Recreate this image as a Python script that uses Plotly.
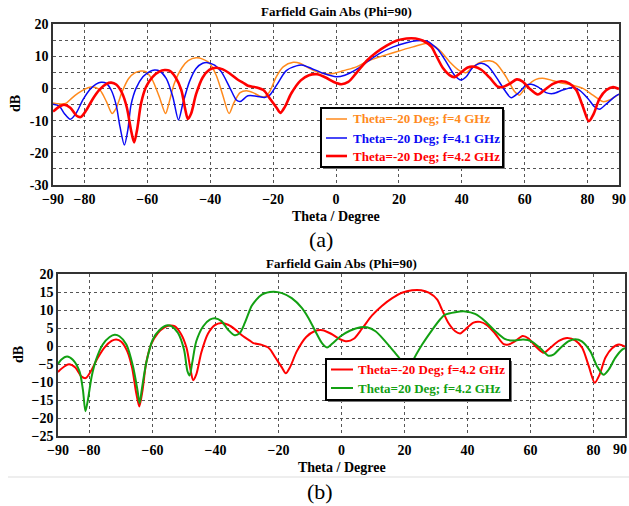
import plotly.graph_objects as go

# ---------------- data ----------------
# (a) Theta=-20 Deg; f=4 GHz
th_4 = [-90, -88, -86, -84, -82, -80, -78, -76.5, -75, -73, -71.2, -70, -68, -66, -64, -62, -60.5, -58.5,
        -56.2, -54.2, -53, -51.4, -49, -47, -44.5, -42.4, -40.2, -38.1, -36, -34, -32.5, -30.5, -28.5,
        -26.4, -24.2, -22.7, -21.1, -19, -16.8, -13.6, -11.5, -9.4, -6.2, -3, -0.4, 2.3, 6.5, 9.7, 13.9,
        19.2, 24.5, 28.8, 30, 32.9, 36.1, 39.3, 41.4, 43, 45.6, 48.8, 50.9, 54.1, 56.8, 58.3, 60.5, 63.6,
        66.3, 69, 72.1, 75.3, 78.5, 81.7, 84.9, 87, 90]
g_4 = [-4.5, -4.8, -4.7, -3.0, -1.5, -0.3, 0.4, 0.3, -0.6, -4.1, -7.8, -6.3, -1.0, 3.0, 4.8, 5.4, 5.2, 2.8,
       -2.6, -7.8, -4.1, 1.6, 6.4, 8.6, 9.5, 9.1, 7.8, 4.1, -2.1, -7.8, -4.5, -1.3, -0.7,
       -1.3, -2.4, -2.6, -1.0, 3.6, 6.7, 8.1, 7.8, 6.7, 5.2, 4.5, 4.7, 5.5, 6.7, 8.3, 9.8,
       11.4, 12.9, 14.0, 13.8, 11.9, 8.3, 5.5, 4.9, 6.2, 8.0, 8.6, 7.8, 3.6, -1.0, -2.1, 0.5, 2.8,
       3.1, 2.4, 1.6, 1.0, 0.0, -2.1, -4.1, -3.6, -1.8]

# (a) Theta=-20 Deg; f=4.1 GHz
th_41 = [-90, -88, -86.4, -84.5, -82.7, -80.5, -78.4, -76.3, -74.7, -73.1, -71.5, -69.9, -68.7, -67.3,
         -66.2, -65.2, -63.6, -61.4, -59.3, -57.7, -56.1, -54, -51.9, -50.1, -48.7, -46.6, -44.5, -42.4,
         -40.8, -38.6, -36.5, -33.9, -31.7, -30.5, -28, -25.3, -22.7, -21.1, -18.9, -15.8, -12.6, -10.5,
         -7.8, -4.1, 0.1, 2.8, 6.5, 9.7, 13.9, 18.2, 22.4, 25.6, 28.8, 31, 32.5, 35, 37.7, 39.8, 41.4,
         43.5, 46.2, 48.3, 50.9, 53.6, 55.7, 57.8, 60.5, 62.1, 64.2, 66.8, 69, 72.1, 75.3, 77.4, 80.1,
         82.2, 83.8, 85.9, 88.6, 90]
g_41 = [-4.9, -5.5, -7.8, -9.6, -7.8, -3.6, -0.5, 1.3, 1.9, 1.6, -0.5, -5.2, -11.9, -17.6,
        -12.9, -5.2, 0.0, 3.6, 5.2, 5.7, 5.4, 3.1, -2.6, -9.8, -4.7, 2.1, 6.2, 7.8,
        8.0, 7.2, 5.2, 0.5, -3.6, -4.1, -2.3, -2.4, -2.8, -2.1, 1.0, 5.5, 7.0, 7.2,
        6.2, 4.7, 3.6, 4.1, 5.9, 8.1, 10.9, 12.9, 14.2, 14.8, 14.7, 13.3, 12.0, 8.3, 4.1, 2.6, 3.6,
        6.5, 7.8, 6.9, 3.6, -0.5, -2.9, -1.6, 1.0, 1.3, 0.5, -1.3, -1.6, -0.5, 0.3, -0.5, -3.1,
        -5.7, -6.5, -4.9, -2.6, -1.8]

# (a) and (b) Theta=-20 Deg; f=4.2 GHz
th_42 = [-90, -88, -86.5, -84.5, -82.5, -81.2, -79.5, -77.5, -75.2, -73, -71.5, -69.9, -68, -66.5, -65.2,
         -64.2, -63.2, -62, -60.4, -58.3, -56.2, -54.5, -53, -51, -49.2, -47.9, -47.1, -46.1, -44.5,
         -42.4, -40.2, -38.1, -36, -33.9, -31.2, -29.1, -28, -25.3, -23, -21, -18.9, -17.7, -16.3, -14.2,
         -11.2, -8.6, -6, -3.3, -0.7, 1.7, 3.9, 6.5, 9.7, 12.9, 16.1, 19.2, 22.4, 25.3, 27.7, 30.4,
         31.8, 34, 36.1, 37.7, 39.3, 41.9, 44, 46.2, 48.8, 51.5, 53, 55.2, 57.5, 59.4, 61.5, 64.2, 66.3,
         69, 71.6, 74.3, 76.4, 78.5, 80.4, 81.9, 83.8, 85.9, 88.1, 90]
g_42 = [-7.2, -5.7, -5.1, -6.0, -8.5, -8.9, -6.9, -3.5, -0.4, 1.4, 1.8, 1.2, -1.5, -6.0, -12.9,
        -16.8, -12.5, -4.7, 0.5, 3.6, 5.2, 5.7, 5.5, 3.4, -0.5, -6.7, -9.5, -7.9, -1.8,
        3.4, 5.8, 6.4, 5.9, 4.7, 2.7, 1.5, 0.8, 0.3, -0.6, -3.2, -6.0, -7.6, -5.8, -1.5,
        2.5, 4.1, 4.4, 3.4, 2.0, 1.3, 2.0, 4.8, 8.5, 11.2, 13.3, 14.8, 15.5, 15.5, 14.8, 12.9,
        10.3, 6.3, 4.1, 3.5, 4.6, 6.5, 6.7, 5.8, 3.4, 0.5, 0.4, 1.4, 2.8, 2.1, 0.0, -1.9, -0.5,
        1.4, 2.2, 1.5, -0.5, -5.6, -10.2, -8.0, -3.2, -0.6, 0.4, -0.2]

# (b) Theta=20 Deg; f=4.2 GHz
th_p20 = [-90, -89, -87.1, -85.3, -83.2, -82.1, -81.3, -80.5, -79.3, -77.9, -75.8, -73.6, -72, -70.5,
          -68.3, -66.2, -64.8, -64.1, -63.4, -62, -59.9, -57.7, -55.6, -54, -51.9, -50, -48.9, -48.2,
          -47.4, -46.1, -43.9, -41.8, -40.2, -38.1, -36, -33.9, -32.3, -30.7, -29.1, -28.5, -25.3,
          -21.6, -18.9, -15.8, -12.6, -10.5, -8.3, -6.2, -4.6, -3.0, -0.3, 2.8, 6.0, 8.1, 10.8, 13.9,
          16.6, 18.7, 20, 21, 22, 22.9, 25.6, 28.8, 31.4, 32.9, 36.1, 39.3, 42.4, 45.6, 48.8, 52, 54.6,
          57.7, 60.3, 63.1, 65.7, 67.3, 69.4, 72, 74.2, 76.3, 79, 81.1, 83.2, 84.8, 86.9, 89.1, 90]
g_p20 = [-5.0, -3.8, -2.9, -3.8, -7.0, -12.1, -18.1, -14.9, -8.4, -3.8, 0.4, 2.5, 3.1, 2.7,
         0.4, -5.6, -12.1, -15.8, -12.1, -4.7, 1.8, 4.5, 5.7, 5.5, 3.6, -1.0, -7.0, -8.2,
         -4.7, 1.3, 5.5, 7.3, 7.7, 6.9, 4.5, 3.0, 3.6, 6.4, 10.0, 11.2, 14.3,
         15.1, 14.7, 13.3, 10.6, 7.8, 4.1, 0.8, -0.4, 0.6, 2.7, 4.3, 5.2, 5.2, 4.1, 1.3,
         -1.5, -3.8, -7.0, -12.0, -7.0, -3.8, 0.4, 4.5, 7.5, 8.7, 9.4, 9.6, 8.9, 6.9, 4.1, 1.9, 1.5,
         1.8, 1.3, -0.6, -2.7, -2.4, -0.6, 1.3, 1.9, 1.3, -1.5, -5.6, -8.0, -6.6, -3.3, -1.0, -0.6]

x_ticks = [-90, -80, -60, -40, -20, 0, 20, 40, 60, 80, 90]
y_ticks_a = [-30, -25, -20, -15, -10, -5, 0, 5, 10, 15, 20]
y_text_a = ["-30", "", "-20", "", "-10", "", "0", "", "10", "", "20"]
y_ticks_b = [-25, -20, -15, -10, -5, 0, 5, 10, 15, 20]

names_a = ["Theta=-20 Deg; f=4 GHz", "Theta=-20 Deg; f=4.1 GHz", "Theta=-20 Deg; f=4.2 GHz"]
names_b = ["Theta=-20 Deg; f=4.2 GHz", "Theta=20 Deg; f=4.2 GHz"]

title_txt = "Farfield Gain Abs (Phi=90)"
xlabel = "Theta / Degree"
ylabel = "dB"

C_OR, C_BL, C_RD, C_GR = "#FF8A1C", "#0A0AF5", "#FF0000", "#12A012"
FONT = "Liberation Serif"
W, H = 629, 506

def py(p):
    return 1 - p / H

def px(p):
    return p / W

series_a = [(th_4, g_4, C_OR, 1.5), (th_41, g_41, C_BL, 1.5), (th_42, g_42, C_RD, 2.6)]
series_b = [(th_42, g_42, C_RD, 2.0), (th_p20, g_p20, C_GR, 2.0)]

fig = go.Figure()
for (th, g, c, w), nm in zip(series_a, names_a):
    fig.add_trace(go.Scatter(x=th, y=g, mode="lines", name=nm, xaxis="x", yaxis="y",
                             line=dict(color=c, width=w, shape="spline", smoothing=0.8)))
for (th, g, c, w), nm in zip(series_b, names_b):
    fig.add_trace(go.Scatter(x=th, y=g, mode="lines", name=nm, xaxis="x2", yaxis="y2",
                             line=dict(color=c, width=w, shape="spline", smoothing=0.8)))

tickfont = dict(family=FONT, size=14, color="black", weight="bold")
axcommon = dict(showgrid=True, gridcolor="#555555", griddash="dot", gridwidth=1, showline=True,
                linecolor="#333333", linewidth=1.5, mirror=True, zeroline=False, ticks="",
                tickfont=tickfont, fixedrange=True, automargin=False)

fig.update_layout(
    width=W, height=H, margin=dict(l=0, r=0, t=0, b=0, autoexpand=False),
    paper_bgcolor="white", plot_bgcolor="white", showlegend=False,
    xaxis=dict(domain=[px(53), px(619)], range=[-90, 90], tickvals=x_ticks, anchor="y", **axcommon),
    yaxis=dict(domain=[py(185), py(24)], range=[-30, 20], tickvals=y_ticks_a, ticktext=y_text_a, anchor="x", **axcommon),
    xaxis2=dict(domain=[px(58), px(625)], range=[-90, 90], tickvals=x_ticks, anchor="y2", **axcommon),
    yaxis2=dict(domain=[py(436), py(274)], range=[-25, 20], tickvals=y_ticks_b, anchor="x2", **axcommon),
)

ann = []
def add_text(t, x, y, size, bold=True, angle=0, color="black", xanchor="center"):
    ann.append(dict(text=f"<b>{t}</b>" if bold else t, x=px(x), y=py(y), xref="paper", yref="paper",
                    showarrow=False, xanchor=xanchor, yanchor="middle", textangle=angle,
                    font=dict(family=FONT, size=size, color=color)))

add_text(title_txt, 336, 12, 13)
add_text(xlabel, 336, 217, 14)
add_text(ylabel, 15, 104, 14, angle=-90)
add_text("(a)", 321, 240, 22, bold=False)
add_text(title_txt, 341, 263, 13)
add_text(xlabel, 342, 467, 14)
add_text(ylabel, 18, 355, 14, angle=-90)
add_text("(b)", 320, 491, 22, bold=False)
# last tick label of the lower axis, which sits on the page edge in the reference
ann.append(dict(text="<b>90</b>", x=1, y=py(449), xref="paper", yref="paper", showarrow=False,
                xanchor="right", yanchor="middle", font=dict(family=FONT, size=14, color="black")))

# manual legends (box, line samples, coloured labels)
def legend_box(x0, y0, x1, y1, rows, series, names, lx0, lx1, tx):
    fig.add_shape(type="rect", xref="paper", yref="paper", x0=px(x0 + 2), x1=px(x1 + 2), y0=py(y0 + 2), y1=py(y1 + 2),
                  fillcolor="#777777", line=dict(width=0), layer="above")
    fig.add_shape(type="rect", xref="paper", yref="paper", x0=px(x0), x1=px(x1), y0=py(y0), y1=py(y1),
                  fillcolor="white", line=dict(color="black", width=2), layer="above")
    for ry, (th, g, c, w), nm in zip(rows, series, names):
        fig.add_shape(type="line", xref="paper", yref="paper", x0=px(lx0), x1=px(lx1), y0=py(ry), y1=py(ry),
                      line=dict(color=c, width=w), layer="above")
        add_text(nm, tx, ry, 13, color=c, xanchor="left")

legend_box(321, 108, 503, 167, [119, 138, 156], series_a, names_a, 326, 347, 351)
legend_box(326, 359, 510, 400, [369.5, 388], series_b, names_b, 331, 353, 356)

fig.update_layout(annotations=ann)

fig.add_shape(type="line", xref="paper", yref="paper", x0=px(8), x1=1, y0=py(477), y1=py(477),
              line=dict(color="#DDDDDD", width=1))

fig.write_html("out.html", config={"displayModeBar": False},
               post_script="document.body.style.margin='0';document.body.style.overflow='hidden';")
